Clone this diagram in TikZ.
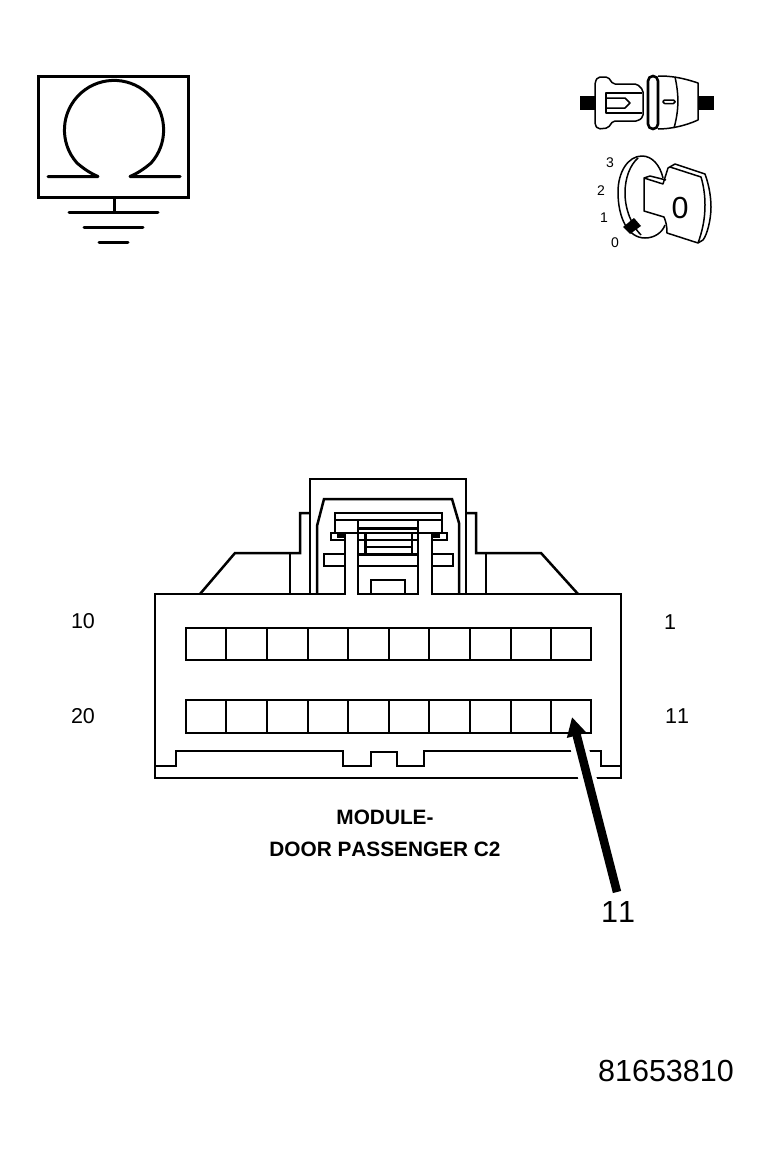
\documentclass[tikz,border=0pt]{standalone}
\usepackage{fontspec}
\setmainfont[Kerning=Off]{Liberation Sans}
\usetikzlibrary{arrows.meta}
\tikzset{
  outline/.style={line width=2.5pt,line join=miter},
  heavy/.style={line width=3pt},
  fine/.style={line width=1.5pt,line join=round},
  pinlabel/.style={font=\fontsize{21.5}{24}\selectfont},
  title/.style={font=\bfseries\fontsize{20.8}{24}\selectfont},
  big/.style={font=\fontsize{30.5}{34}\selectfont},
  keypos/.style={font=\fontsize{14}{16}\selectfont},
}
\begin{document}
\begin{tikzpicture}[x=1pt,y=-1pt]
  \useasboundingbox (0,0) rectangle (770,1156);

  % ground symbol
  \draw[heavy] (38,76) rectangle (188,197);
  \draw[heavy,line cap=round,line join=round] (48,176.5) -- (98,176.5) .. controls (90,173) and (84,169) .. (77,163) arc[start angle=138.3,end angle=401.7,radius=49.6] .. controls (144,169) and (138,173) .. (130,176.5) -- (180,176.5);
  \draw[heavy] (114,197) -- (114,212);
  \draw[heavy,line cap=round] (69,212) -- (158,212);
  \draw[heavy,line cap=round] (84,227) -- (143,227);
  \draw[heavy,line cap=round] (99,242) -- (128,242);

  % inline connector icon
  \fill (580,96) rectangle (596,110);
  \fill (698,96) rectangle (714,110);
  \draw[fine,rounded corners=2pt] (595,82) -- (598,77) -- (608,77) -- (613,84) -- (637,84) -- (643,90) -- (643,117) -- (638,121) -- (613,121) -- (608,128) -- (598,129) -- (595,125) -- cycle;
  \draw[fine] (642,93) -- (606,93) -- (606,113) -- (642,113);
  \draw[fine] (606,98) -- (625,98) -- (630,103) -- (625,108) -- (606,108);
  \draw[fine] (658,76) .. controls (670,76) and (680,77) .. (698,83) -- (698,120) .. controls (685,126) and (670,129) .. (658,129);
  \draw[fine] (675,77) .. controls (679,95) and (679,110) .. (674,128);
  \draw[line width=2.6pt,rounded corners=5pt] (648,76) rectangle (658,129);
  \draw[fine,rounded corners=1.5pt] (663,100) rectangle (675,103.5);

  % key icon
  \draw[fine] (663,178) .. controls (660,165) and (652,156) .. (642,156) .. controls (628,156) and (618,172) .. (618,192) .. controls (618,218) and (628,238) .. (645,238) .. controls (654,238) and (662,233) .. (665,225);
  \draw[fine] (638,158) .. controls (630,165) and (625,178) .. (625,193) .. controls (625,210) and (632,226) .. (641,235);
  \draw[fine,fill=white] (663,184) -- (668,168) -- (675,164) -- (705,174) .. controls (709,185) and (711,197) .. (711,207) .. controls (711,220) and (707,235) .. (703,240) -- (698,243) -- (667,233) .. controls (667,226) and (666,222) .. (664,217) -- (644,211) -- (644,178) -- cycle;
  \draw[fine] (644,178) -- (650,176) -- (666,180);
  \draw[fine] (670,167) -- (701,177) .. controls (704,187) and (705,197) .. (705,205) .. controls (705,220) and (702,232) .. (698,243);
  \fill (634,218) -- (641,226) -- (630,234) -- (623,227) -- cycle;
  \node (keyzero) at (680,208) [big] {0};
  \node (pos3) at (610,163) [keypos] {3};
  \node (pos2) at (601,191) [keypos] {2};
  \node (pos1) at (604,218) [keypos] {1};
  \node (pos0) at (615,243) [keypos] {0};

  % connector housing
  \draw[outline] (155,594) rectangle (621,778);
  \draw[outline] (155,766) -- (176,766) -- (176,751) -- (343,751) -- (343,766) -- (371,766) -- (371,752) -- (397,752) -- (397,766) -- (424,766) -- (424,751) -- (601,751) -- (601,766) -- (621,766);
  \draw[outline] (200,594) -- (235,553) -- (300,553) -- (300,513) -- (310,513);
  \draw[outline] (578,594) -- (541,553) -- (476,553) -- (476,513) -- (466,513);
  \draw[outline] (290,553) -- (290,594);
  \draw[outline] (486,553) -- (486,594);
  \draw[outline] (310,594) -- (310,479) -- (466,479) -- (466,594);
  \draw[outline] (317,594) -- (317,526) -- (324,499) -- (452,499) -- (459,523) -- (459,594);

  % latch
  \draw[outline] (335,513) rectangle (442,533);
  \draw[outline] (335,520) -- (442,520);
  \draw[outline] (331,533) rectangle (447,540);
  \fill (337,534) rectangle (344,538);
  \fill (432,534) rectangle (440,538);
  \draw[outline] (358,520) -- (358,594);
  \draw[outline] (418,520) -- (418,594);
  \draw[line width=3pt] (358,528) -- (418,528);
  \draw[line width=3pt] (365,533) -- (365,554);
  \draw[outline] (412,533) -- (412,554);
  \draw[outline] (365,547) -- (412,547);
  \draw[line width=3pt] (358,554) -- (418,554);
  \draw[outline] (358,566) -- (418,566);
  \draw[outline] (345,554) -- (324,554) -- (324,566) -- (345,566);
  \draw[outline] (432,554) -- (453,554) -- (453,566) -- (432,566);
  \draw[outline] (371,594) -- (371,580) -- (405,580) -- (405,594);
  \fill[white] (346.2,534.5) rectangle (356.7,596);
  \fill[white] (419.3,534.5) rectangle (430.8,596);
  \draw[line width=2.8pt] (345,534) -- (345,594);
  \draw[line width=2.8pt] (432,534) -- (432,594);

  % terminal rows
  \foreach \rowtop/\rowbot in {628/660,700/733} {
    \draw[outline] (186,\rowtop) rectangle (591,\rowbot);
    \foreach \cellx in {226,267,308,348,389,429,470,511,551}
      \draw[outline] (\cellx,\rowtop) -- (\cellx,\rowbot);
  }

  \node (pin10) at (83,621) [pinlabel] {10};
  \node (pin20) at (83,716) [pinlabel] {20};
  \node (pin1) at (670,622) [pinlabel] {1};
  \node (pin11) at (677,716) [pinlabel] {11};
  \node (name1) at (385,817) [title] {MODULE-};
  \node (name2) at (385,849) [title] {DOOR PASSENGER C2};

  % callout
  \node (callout) at (618,912) [big] {11};
  \node (partno) at (666,1071) [big] {81653810};
  \coordinate (tail) at (617,892);
  \coordinate (neck) at (577,738);
  \coordinate (tip) at (572,717);
  \draw[white,line width=18pt] (tail) -- (neck);
  \draw[line width=8.5pt,-{Triangle[length=19pt,width=19pt]}] (tail) -- (tip);
\end{tikzpicture}
\end{document}
